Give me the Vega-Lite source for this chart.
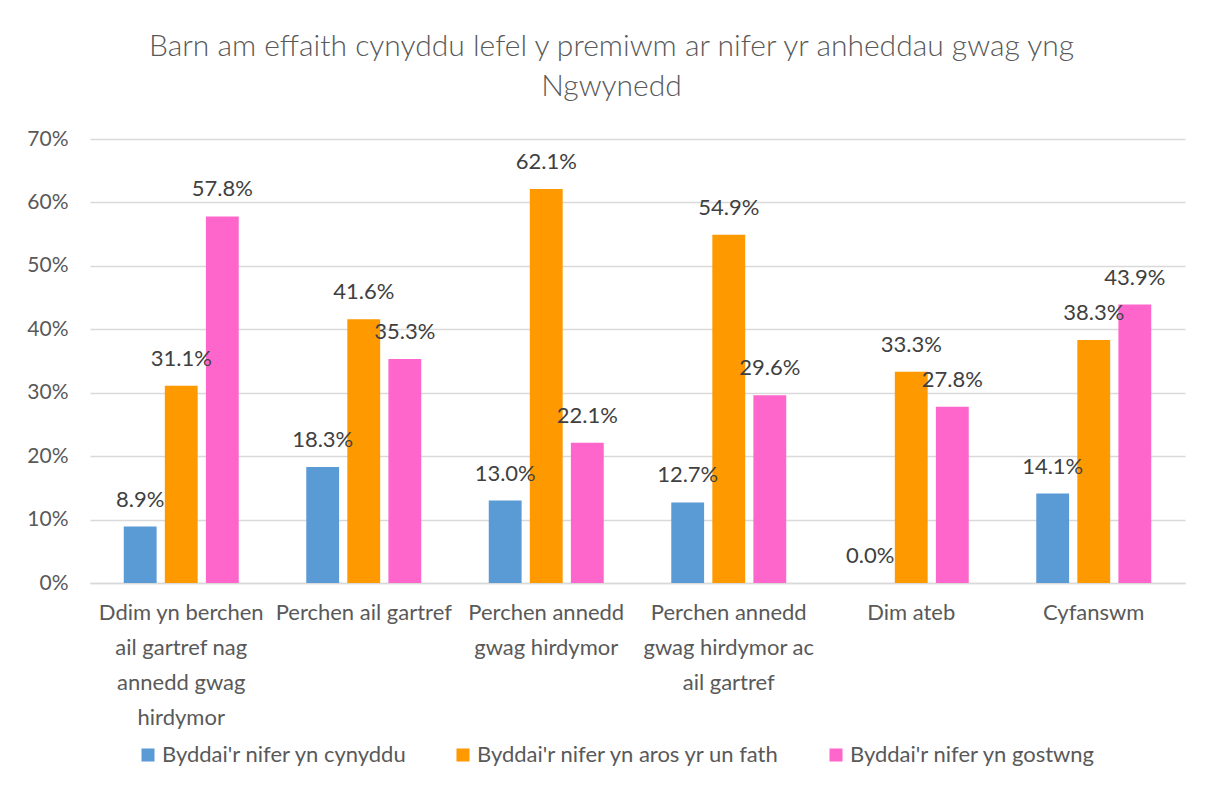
{
  "$schema": "https://vega.github.io/schema/vega-lite/v6.json",
  "width": 1095,
  "height": 444,
  "padding": {"left": 26, "top": 32, "right": 26, "bottom": 10},
  "background": "white",
  "config": {
    "font": "Lato",
    "view": {"stroke": null},
    "axis": {"labelColor": "#595959", "labelFont": "Lato", "titleColor": "#595959"},
    "legend": {"labelFont": "Lato"}
  },
  "title": {
    "text": ["Barn am effaith cynyddu lefel y premiwm ar nifer yr anheddau gwag yng", "Ngwynedd"],
    "font": "Lato",
    "fontSize": 30,
    "fontWeight": 300,
    "color": "#595959",
    "lineHeight": 40,
    "offset": 26,
    "dx": -26,
    "anchor": "middle"
  },
  "data": {
    "values": [
      {"cat": "Ddim yn berchen ail gartref nag annedd gwag hirdymor", "series": "Byddai'r nifer yn cynyddu", "value": 0.089},
      {"cat": "Ddim yn berchen ail gartref nag annedd gwag hirdymor", "series": "Byddai'r nifer yn aros yr un fath", "value": 0.311},
      {"cat": "Ddim yn berchen ail gartref nag annedd gwag hirdymor", "series": "Byddai'r nifer yn gostwng", "value": 0.578},
      {"cat": "Perchen ail gartref", "series": "Byddai'r nifer yn cynyddu", "value": 0.183},
      {"cat": "Perchen ail gartref", "series": "Byddai'r nifer yn aros yr un fath", "value": 0.416},
      {"cat": "Perchen ail gartref", "series": "Byddai'r nifer yn gostwng", "value": 0.353},
      {"cat": "Perchen annedd gwag hirdymor", "series": "Byddai'r nifer yn cynyddu", "value": 0.130},
      {"cat": "Perchen annedd gwag hirdymor", "series": "Byddai'r nifer yn aros yr un fath", "value": 0.621},
      {"cat": "Perchen annedd gwag hirdymor", "series": "Byddai'r nifer yn gostwng", "value": 0.221},
      {"cat": "Perchen annedd gwag hirdymor ac ail gartref", "series": "Byddai'r nifer yn cynyddu", "value": 0.127},
      {"cat": "Perchen annedd gwag hirdymor ac ail gartref", "series": "Byddai'r nifer yn aros yr un fath", "value": 0.549},
      {"cat": "Perchen annedd gwag hirdymor ac ail gartref", "series": "Byddai'r nifer yn gostwng", "value": 0.296},
      {"cat": "Dim ateb", "series": "Byddai'r nifer yn cynyddu", "value": 0.0},
      {"cat": "Dim ateb", "series": "Byddai'r nifer yn aros yr un fath", "value": 0.333},
      {"cat": "Dim ateb", "series": "Byddai'r nifer yn gostwng", "value": 0.278},
      {"cat": "Cyfanswm", "series": "Byddai'r nifer yn cynyddu", "value": 0.141},
      {"cat": "Cyfanswm", "series": "Byddai'r nifer yn aros yr un fath", "value": 0.383},
      {"cat": "Cyfanswm", "series": "Byddai'r nifer yn gostwng", "value": 0.439}
    ]
  },
  "encoding": {
    "x": {
      "field": "cat",
      "type": "nominal",
      "sort": null,
      "title": null,
      "scale": {"paddingInner": 0.37, "paddingOuter": 0.185},
      "axis": {
        "labelAngle": 0,
        "labelPadding": 19,
        "labelFontSize": 22,
        "ticks": false,
        "domainColor": "#D9D9D9",
        "domainWidth": 1.5,
        "labelLineHeight": 35,
        "labelBaseline": "top",
        "labelLimit": 300,
        "labelExpr": "datum.value == 'Ddim yn berchen ail gartref nag annedd gwag hirdymor' ? ['Ddim yn berchen', 'ail gartref nag', 'annedd gwag', 'hirdymor'] : datum.value == 'Perchen annedd gwag hirdymor' ? ['Perchen annedd', 'gwag hirdymor'] : datum.value == 'Perchen annedd gwag hirdymor ac ail gartref' ? ['Perchen annedd', 'gwag hirdymor ac', 'ail gartref'] : datum.value"
      }
    },
    "xOffset": {
      "field": "series",
      "type": "nominal",
      "sort": ["Byddai'r nifer yn cynyddu", "Byddai'r nifer yn aros yr un fath", "Byddai'r nifer yn gostwng"],
      "scale": {"paddingInner": 0.2, "paddingOuter": 0}
    },
    "y": {
      "field": "value",
      "type": "quantitative",
      "title": null,
      "scale": {"domain": [0, 0.7], "nice": false},
      "axis": {
        "format": ".0%",
        "values": [0, 0.1, 0.2, 0.3, 0.4, 0.5, 0.6, 0.7],
        "labelOverlap": false,
        "labelFontSize": 21,
        "domain": false,
        "ticks": false,
        "labelPadding": 22,
        "gridColor": "#D9D9D9",
        "gridWidth": 1.3
      }
    }
  },
  "layer": [
    {
      "mark": {"type": "bar"},
      "encoding": {
        "color": {
          "field": "series",
          "type": "nominal",
          "sort": ["Byddai'r nifer yn cynyddu", "Byddai'r nifer yn aros yr un fath", "Byddai'r nifer yn gostwng"],
          "scale": {
            "domain": ["Byddai'r nifer yn cynyddu", "Byddai'r nifer yn aros yr un fath", "Byddai'r nifer yn gostwng"],
            "range": ["#5B9BD5", "#FF9900", "#FF66CC"]
          },
          "legend": {
            "title": null,
            "orient": "none",
            "legendX": 47,
            "legendY": 605,
            "padding": 0,
            "direction": "horizontal",
            "symbolType": "square",
            "symbolSize": 170,
            "symbolStrokeWidth": 0,
            "labelFontSize": 22,
            "labelColor": "#595959",
            "columnPadding": 44,
            "labelOffset": 3,
            "labelLimit": 400
          }
        }
      }
    },
    {
      "mark": {"type": "text", "fontSize": 22, "color": "#404040", "baseline": "middle", "dy": -27, "font": "Lato"},
      "encoding": {
        "text": {"field": "value", "type": "quantitative", "format": ".1%"}
      }
    }
  ]
}
